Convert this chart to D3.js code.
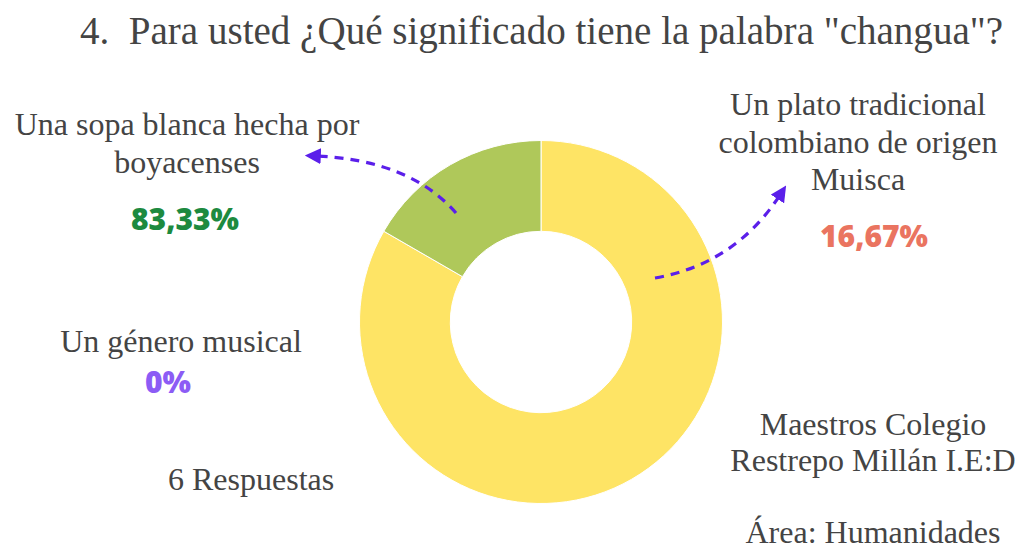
<!DOCTYPE html>
<html>
<head>
<meta charset="utf-8">
<script src="https://cdn.jsdelivr.net/npm/d3@7"></script>
<style>
  html, body { margin: 0; padding: 0; background: #fff; }
  svg { display: block; }
  .serif { font-family: "Liberation Serif", "DejaVu Serif", serif; fill: #444; }
  .pct { font-family: "Open Sans", "DejaVu Sans", sans-serif; font-weight: 800; }
</style>
</head>
<body>
<div id="chart"></div>
<script>
// data
var title = '4.  Para usted ¿Qué significado tiene la palabra "changua"?';
var categories = ['Una sopa blanca hecha por boyacenses', 'Un plato tradicional colombiano de origen Muisca', 'Un género musical'];
var responses = [5, 1, 0];
var sliceColors = ['#FEE465', '#AFC85A', '#8C5CF5'];
var pctLabels = ['83,33%', '16,67%', '0%'];
var pctColors = ['#1D8A3F', '#EA7460', '#8C5CF5'];
var totalLabel = '6 Respuestas';
var sourceLines = ['Maestros Colegio', 'Restrepo Millán I.E:D', '', 'Área: Humanidades'];

function renderChart(params) {
  var attrs = {
    svgWidth: 1016,
    svgHeight: 552,
    centerX: 541,
    centerY: 322,
    outerRadius: 181.5,
    innerRadius: 90.7,
    container: 'body'
  };
  Object.keys(attrs).forEach(function (key) {
    if (params && params[key]) attrs[key] = params[key];
  });

  var svg = d3.select(attrs.container).append('svg')
    .attr('width', attrs.svgWidth)
    .attr('height', attrs.svgHeight);

  // title
  svg.append('text')
    .attr('class', 'serif')
    .attr('x', 80)
    .attr('y', 44)
    .attr('font-size', 39)
    .attr('textLength', 923)
    .attr('lengthAdjust', 'spacingAndGlyphs')
    .style('white-space', 'pre')
    .text(title);

  // ################## donut ##################
  var pie = d3.pie().sort(null).value(function (d) { return d; });
  var arc = d3.arc().innerRadius(attrs.innerRadius).outerRadius(attrs.outerRadius);
  var arcs = pie(responses);

  var donut = svg.append('g')
    .attr('transform', 'translate(' + attrs.centerX + ',' + attrs.centerY + ')');

  donut.selectAll('path.slice')
    .data(arcs.filter(function (d) { return d.value > 0; }))
    .enter().append('path')
    .attr('class', 'slice')
    .attr('d', arc)
    .attr('fill', function (d) { return sliceColors[d.index]; })
    .attr('stroke', '#fff')
    .attr('stroke-width', 1);

  // ################## labels ##################
  var labelLayout = [
    { lines: ['Una sopa blanca hecha por', 'boyacenses'], x: 187, y: 135, px: 185, py: 230 },
    { lines: ['Un plato tradicional', 'colombiano de origen', 'Muisca'], x: 858, y: 115, px: 874, py: 247 },
    { lines: ['Un género musical'], x: 181, y: 352, px: 168, py: 393 }
  ];

  labelLayout.forEach(function (l, i) {
    var t = svg.append('text')
      .attr('class', 'serif')
      .attr('font-size', 32)
      .attr('text-anchor', 'middle');
    l.lines.forEach(function (line, j) {
      t.append('tspan').attr('x', l.x).attr('y', l.y + j * 37.5).text(line);
    });
    svg.append('text')
      .attr('class', 'pct')
      .attr('x', l.px)
      .attr('y', l.py)
      .attr('font-size', 30)
      .attr('text-anchor', 'middle')
      .attr('fill', pctColors[i])
      .text(pctLabels[i]);
  });

  svg.append('text')
    .attr('class', 'serif')
    .attr('x', 168)
    .attr('y', 490)
    .attr('font-size', 32)
    .text(totalLabel);

  var src = svg.append('text')
    .attr('class', 'serif')
    .attr('font-size', 32)
    .attr('text-anchor', 'middle');
  sourceLines.forEach(function (line, j) {
    src.append('tspan').attr('x', 873).attr('y', 435 + j * 36).text(line);
  });

  // ################## arrows ##################
  var defs = svg.append('defs');
  defs.append('marker')
    .attr('id', 'arrowHead')
    .attr('viewBox', '0 0 10 10')
    .attr('refX', 3)
    .attr('refY', 5)
    .attr('markerWidth', 5)
    .attr('markerHeight', 5)
    .attr('markerUnits', 'strokeWidth')
    .attr('orient', 'auto')
    .append('path')
    .attr('d', 'M0,0 L10,5 L0,10 z')
    .attr('fill', '#5B1FEA');

  var arrows = [
    { from: [456, 213], ctrl: [410, 160], to: [316, 156] },
    { from: [655, 278], ctrl: [735, 264], to: [780, 195] }
  ];
  svg.selectAll('path.arrow')
    .data(arrows)
    .enter().append('path')
    .attr('class', 'arrow')
    .attr('d', function (d) {
      var p = d3.path();
      p.moveTo(d.from[0], d.from[1]);
      p.quadraticCurveTo(d.ctrl[0], d.ctrl[1], d.to[0], d.to[1]);
      return p.toString();
    })
    .attr('fill', 'none')
    .attr('stroke', '#5B1FEA')
    .attr('stroke-width', 3.2)
    .attr('stroke-dasharray', '9,7')
    .attr('marker-end', 'url(#arrowHead)');
}

renderChart({ container: '#chart' });
</script>
</body>
</html>
